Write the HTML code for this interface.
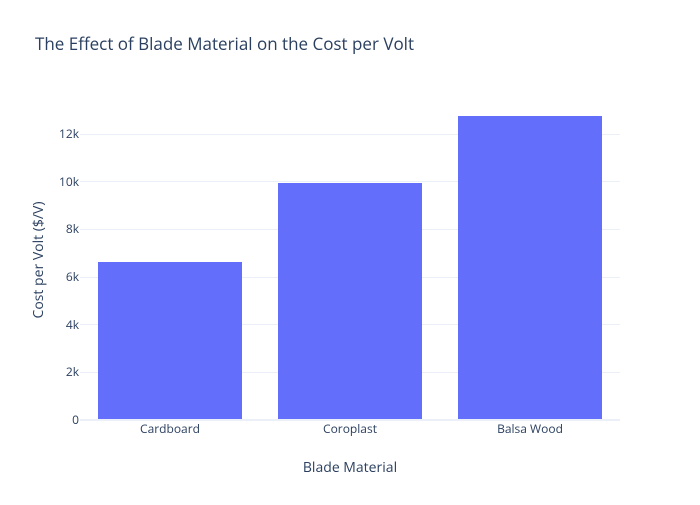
<!DOCTYPE html>
<html><head><meta charset="utf-8"><style>
body{margin:0;background:#fff;}
svg text{font-family:"Open Sans","Liberation Sans",sans-serif;fill:#2a3f5f;}
</style></head><body>
<svg width="700" height="500" xmlns="http://www.w3.org/2000/svg">
<rect width="700" height="500" fill="#fff"/>
<g stroke="#ebf0f8" stroke-width="1">
<line x1="80" x2="620" y1="372.5" y2="372.5"/>
<line x1="80" x2="620" y1="324.5" y2="324.5"/>
<line x1="80" x2="620" y1="277.5" y2="277.5"/>
<line x1="80" x2="620" y1="229.5" y2="229.5"/>
<line x1="80" x2="620" y1="181.5" y2="181.5"/>
<line x1="80" x2="620" y1="134.5" y2="134.5"/>
</g>
<g fill="#636efa">
<rect x="98" y="262" width="144" height="158"/>
<rect x="278" y="183" width="144" height="237"/>
<rect x="458" y="116" width="144" height="304"/>
</g>
<line x1="80" x2="620" y1="420" y2="420" stroke="#ebf0f8" stroke-width="2"/>
<g font-size="12" text-anchor="end">
<text x="79" y="424">0</text>
<text x="79" y="376">2k</text>
<text x="79" y="329">4k</text>
<text x="79" y="281">6k</text>
<text x="79" y="233">8k</text>
<text x="79" y="186">10k</text>
<text x="79" y="138">12k</text>
</g>
<g font-size="12" text-anchor="middle">
<text x="170" y="433">Cardboard</text>
<text x="350" y="433">Coroplast</text>
<text x="530" y="433">Balsa Wood</text>
</g>
<text x="350" y="472" font-size="14" text-anchor="middle">Blade Material</text>
<text transform="translate(43,260) rotate(-90)" font-size="14" text-anchor="middle">Cost per Volt ($/V)</text>
<text x="35" y="50" font-size="17">The Effect of Blade Material on the Cost per Volt</text>
</svg>
</body></html>
